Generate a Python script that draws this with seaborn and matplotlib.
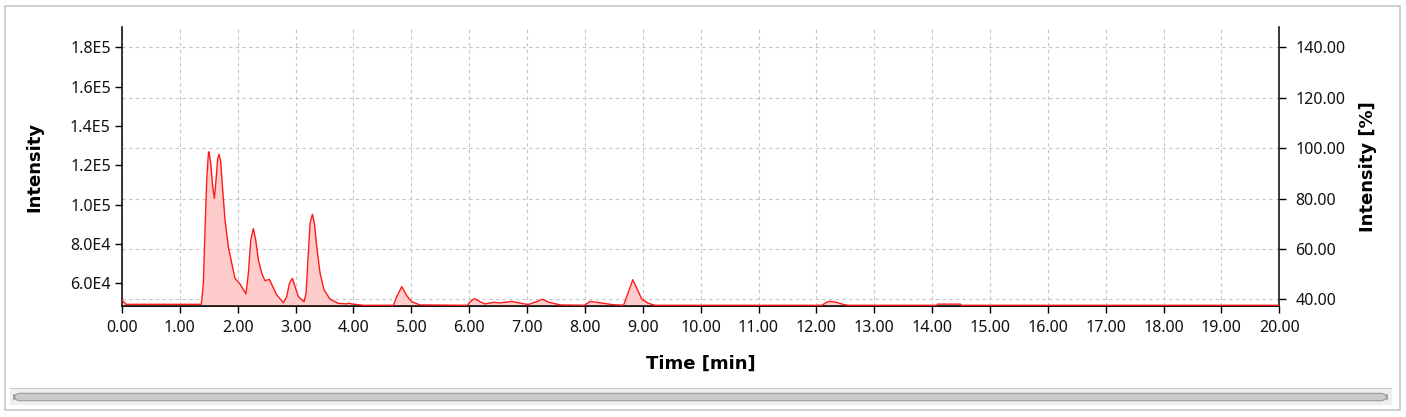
import numpy as np
import seaborn as sns
import matplotlib.pyplot as plt
from matplotlib.ticker import FixedLocator, FuncFormatter
from matplotlib.patches import Rectangle, FancyBboxPatch

# chromatogram trace: time [min] and intensity
time = [0.00, 0.07, 1.37, 1.406, 1.435, 1.464, 1.493, 1.504, 1.533, 1.568,
        1.597, 1.625, 1.654, 1.677, 1.706, 1.74, 1.78, 1.838, 1.896, 1.953,
        2.04, 2.143, 2.184, 2.225, 2.27, 2.311, 2.357, 2.415, 2.472, 2.547,
        2.605, 2.674, 2.789, 2.847, 2.893, 2.945, 2.991, 3.049, 3.146, 3.181,
        3.21, 3.25, 3.29, 3.325, 3.365, 3.423, 3.492, 3.596, 3.74, 3.884,
        3.91, 3.97, 4.17, 4.69, 4.748, 4.835, 4.921, 5.007, 5.15, 5.97,
        6.016, 6.09, 6.19, 6.275, 6.42, 6.535, 6.736, 6.88, 7.02, 7.14,
        7.266, 7.37, 7.571, 7.99, 8.09, 8.26, 8.46, 8.666, 8.724, 8.827,
        8.896, 8.983, 9.098, 9.213, 12.094, 12.18, 12.24, 12.35, 12.47, 12.55,
        14.08, 14.09, 14.49, 14.5, 20.0]
intensity = [5.15e4, 4.93e4, 4.93e4, 6.0e4, 8.71e4, 1.125e5, 1.261e5, 1.269e5, 1.21e5, 1.091e5,
             1.032e5, 1.125e5, 1.236e5, 1.256e5, 1.218e5, 1.074e5, 9.22e4, 7.86e4, 7.02e4, 6.25e4,
             5.96e4, 5.46e4, 6.51e4, 8.2e4, 8.78e4, 8.2e4, 7.18e4, 6.51e4, 6.13e4, 6.2e4,
             5.83e4, 5.41e4, 5.01e4, 5.32e4, 6.0e4, 6.25e4, 5.83e4, 5.32e4, 5.06e4, 5.49e4,
             7.02e4, 9.05e4, 9.51e4, 9.05e4, 7.86e4, 6.51e4, 5.66e4, 5.19e4, 4.98e4, 4.95e4,
             4.99e4, 4.95e4, 4.88e4, 4.88e4, 5.32e4, 5.83e4, 5.37e4, 5.06e4, 4.9e4, 4.88e4,
             5.06e4, 5.22e4, 5.06e4, 4.95e4, 5.03e4, 5.0e4, 5.08e4, 4.99e4, 4.92e4, 5.04e4,
             5.19e4, 5.04e4, 4.9e4, 4.88e4, 5.08e4, 5.01e4, 4.92e4, 4.88e4, 5.32e4, 6.18e4,
             5.75e4, 5.19e4, 4.98e4, 4.88e4, 4.88e4, 5.04e4, 5.08e4, 5.03e4, 4.92e4, 4.88e4,
             4.88e4, 4.94e4, 4.94e4, 4.88e4, 4.88e4]

x_ticks = list(range(0, 21))
left_ticks = [6e4, 8e4, 1.0e5, 1.2e5, 1.4e5, 1.6e5, 1.8e5]
right_ticks = [40, 60, 80, 100, 120, 140]

sns.set_style("white")
plt.rcParams['font.family'] = ['DejaVu Sans']
plt.rcParams['text.color'] = 'black'
plt.rcParams['axes.labelcolor'] = 'black'
plt.rcParams['xtick.color'] = 'black'
plt.rcParams['ytick.color'] = 'black'

fig = plt.figure(figsize=(14.06, 4.17), dpi=100)
ax = fig.add_axes([0.08677, 0.26691, 0.82312, 0.66762])
ax2 = ax.twinx()

# draw the twin (with horizontal grid) behind the main axes
ax.set_zorder(ax2.get_zorder() + 1)
ax.patch.set_visible(False)

y_lo, y_hi = 4.86e4, 1.902e5
ax.fill_between(time, intensity, y_lo, color='#ffcccc', lw=0, zorder=2)
sns.lineplot(x=time, y=intensity, ax=ax, color='#ff1a1a', lw=1.0, zorder=3)

ax.set_xlim(0, 20)
ax.set_ylim(y_lo, y_hi)
ax2.set_ylim(37.5, 147.9)

ax.xaxis.set_major_locator(FixedLocator(x_ticks))
ax.xaxis.set_major_formatter(FuncFormatter(lambda v, p: f"{v:.2f}"))
ax.yaxis.set_major_locator(FixedLocator(left_ticks))

def sci(v, p):
    e = int(np.floor(np.log10(v) + 1e-9))
    return f"{v / 10 ** e:.1f}E{e}"

ax.yaxis.set_major_formatter(FuncFormatter(sci))
ax2.yaxis.set_major_locator(FixedLocator(right_ticks))
ax2.yaxis.set_major_formatter(FuncFormatter(lambda v, p: f"{v:.2f}"))

ax.tick_params(axis='x', direction='out', length=5, width=1, pad=5, bottom=True,
               colors='black', labelcolor='#111111')
ax.tick_params(axis='y', direction='out', length=5, width=1, pad=3, left=True,
               colors='black', labelcolor='#111111')
ax2.tick_params(axis='y', direction='out', length=5, width=1, pad=6.5, right=True,
                colors='black', labelcolor='#111111')
for lab in ax.get_xticklabels() + ax.get_yticklabels() + ax2.get_yticklabels():
    lab.set_fontfamily('Noto Sans')
    lab.set_fontsize(11.5)

grid_kw = dict(color='#c4c4c4', linestyle=(0, (3, 3)), linewidth=0.8)
ax.grid(True, axis='x', **grid_kw)
ax.grid(False, axis='y')
ax2.grid(True, axis='y', **grid_kw)
ax.set_axisbelow(True)

for a in (ax, ax2):
    a.spines['top'].set_visible(False)
    for s in ('left', 'right', 'bottom'):
        a.spines[s].set_color('black')
        a.spines[s].set_linewidth(1.1)
ax.spines['right'].set_visible(False)
ax2.spines['left'].set_visible(False)

label_font = dict(family='DejaVu Sans', weight='bold', size=13, color='black')
ax.set_xlabel('Time [min]', **label_font)
ax.xaxis.label.set_va('center')
ax.xaxis.set_label_coords(0.5, -0.207)
ax.set_ylabel('Intensity', **label_font)
ax.yaxis.label.set_va('center')
ax.yaxis.set_label_coords(-0.0758, 0.5)
ax2.set_ylabel('Intensity [%]', rotation=90, **label_font)
ax2.yaxis.label.set_va('center')
ax2.yaxis.set_label_coords(1.0769, 0.5)

# window frame and scrollbar
W, H = 1406, 417
def fr(x0, y0, x1, y1):
    return (x0 / W, 1 - y1 / H), (x1 - x0) / W, (y1 - y0) / H

xy, w, h = fr(4.5, 6, 1399.5, 410)
fig.patches.append(Rectangle(xy, w, h, transform=fig.transFigure, fill=False,
                             edgecolor='#c6c6c6', lw=1.2))
xy, w, h = fr(10, 388, 1392, 405)
fig.patches.append(Rectangle(xy, w, h, transform=fig.transFigure,
                             facecolor='#eeeff0', edgecolor='none'))
xy, w, h = fr(10, 387.5, 1392, 388.5)
fig.patches.append(Rectangle(xy, w, h, transform=fig.transFigure,
                             facecolor='#c8c8c8', edgecolor='none'))
xy, w, h = fr(14, 393.3, 1387, 400.7)
fig.patches.append(FancyBboxPatch(xy, w, h, transform=fig.transFigure,
                                  boxstyle='round,pad=0,rounding_size=0.0045',
                                  mutation_aspect=W / H,
                                  facecolor='#cacaca', edgecolor='#9a9a9a', lw=0.8))

fig.savefig('out.png', dpi=100)
